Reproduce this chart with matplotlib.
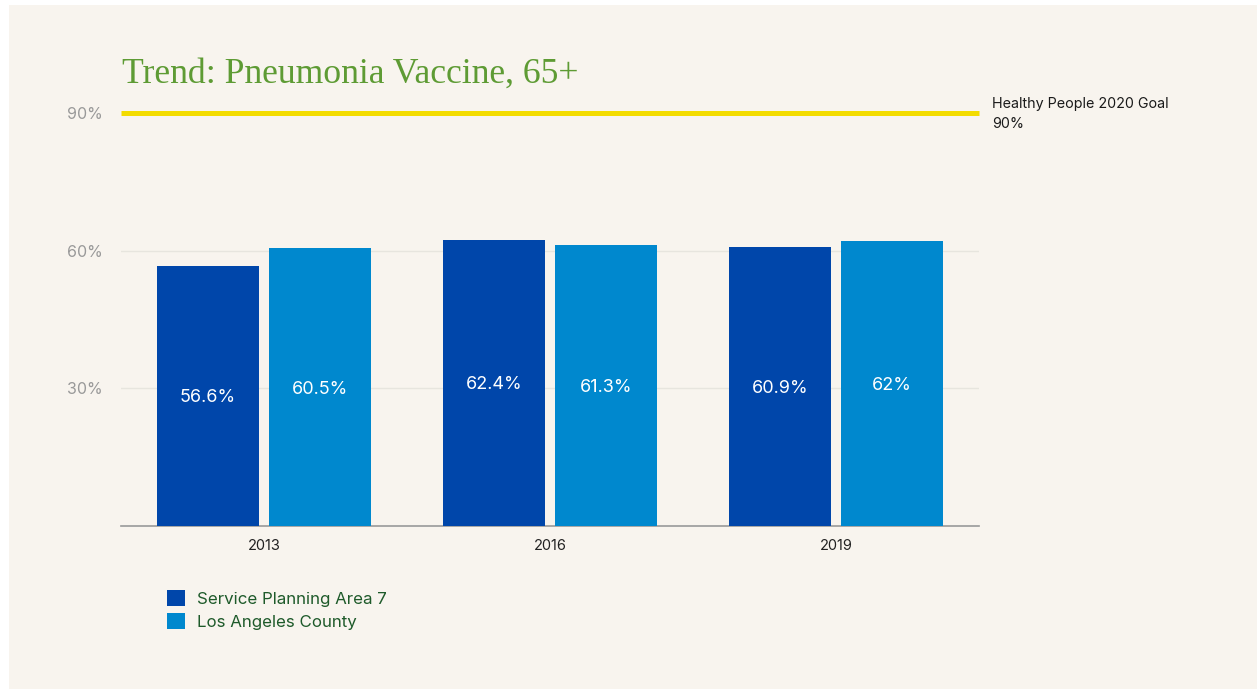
import matplotlib
matplotlib.use("Agg")
import matplotlib.pyplot as plt
import numpy as np
from matplotlib.patches import Rectangle

years = ["2013", "2016", "2019"]
spa7 = [56.6, 62.4, 60.9]
lac = [60.5, 61.3, 62.0]
spa7_labels = ["56.6%", "62.4%", "60.9%"]
lac_labels = ["60.5%", "61.3%", "62%"]
series_names = ["Service Planning Area 7", "Los Angeles County"]
goal_value = 90
goal_label = "Healthy People 2020 Goal\n90%"
yticks = [30, 60, 90]
ytick_labels = ["30%", "60%", "90%"]
title = "Trend: Pneumonia Vaccine, 65+"

BG = "#f8f4ee"
DARK = "#0046aa"
LIGHT = "#0088ce"
SANS = ["Inter", "DejaVu Sans"]

fig = plt.figure(figsize=(12.57, 6.89), dpi=100, facecolor="white")
fig.patches.append(Rectangle((9 / 1257, 0), 1 - 9 / 1257, 1 - 5 / 689,
                             transform=fig.transFigure, facecolor=BG,
                             edgecolor="none", zorder=-10))

ax = fig.add_axes([121 / 1257, 163 / 689, 858 / 1257, 413 / 689])
ax.set_facecolor("none")

x = np.arange(len(years))
w = 0.357
off = 0.196
b1 = ax.bar(x - off, spa7, w, color=DARK, label=series_names[0], zorder=3)
b2 = ax.bar(x + off, lac, w, color=LIGHT, label=series_names[1], zorder=3)

for bars, labs in ((b1, spa7_labels), (b2, lac_labels)):
    for rect, lab in zip(bars, labs):
        ax.text(rect.get_x() + rect.get_width() / 2, rect.get_height() / 2 - 0.4, lab,
                ha="center", va="center", color="white", fontsize=13,
                family=SANS, zorder=4)

ax.set_xlim(-0.5, len(years) - 0.5)
ax.set_ylim(0, 90)
ax.set_xticks(x)
ax.set_xticklabels(years, family=SANS, fontsize=10.5, color="#222222")
ax.set_yticks(yticks)
ax.set_yticklabels(ytick_labels, family=SANS, fontsize=11.5, color="#999999")
ax.tick_params(axis="both", length=0)
ax.tick_params(axis="y", pad=13)
ax.tick_params(axis="x", pad=9)

for v in yticks[:-1]:
    ax.axhline(v, color="#e7e5de", lw=1, zorder=1)
for s in ["top", "right", "left"]:
    ax.spines[s].set_visible(False)
ax.spines["bottom"].set_color("#999999")
ax.spines["bottom"].set_linewidth(1.2)

ax.axhline(goal_value, color="#f3dc00", lw=3.6, zorder=5, clip_on=False,
           solid_capstyle="butt")
ax.annotate(goal_label, xy=(1, goal_value), xycoords=("axes fraction", "data"),
            xytext=(13, -1), textcoords="offset pixels", ha="left", va="center",
            fontsize=10.3, family=SANS, color="#1a1a1a", linespacing=1.55)

fig.text(122 / 1257, (689 - 83) / 689, title, family=["Liberation Serif", "DejaVu Serif"],
         fontsize=25.7, color="#5e9b34", ha="left", va="baseline")

leg = ax.legend(handles=[b1, b2], loc="upper left",
                bbox_to_anchor=(167 / 1257, (689 - 590) / 689),
                bbox_transform=fig.transFigure, frameon=False,
                prop={"family": "Inter", "size": 12.2}, handlelength=1.08,
                handleheight=1.08, handletextpad=0.7, labelspacing=0.37,
                borderpad=0, borderaxespad=0)
for t in leg.get_texts():
    t.set_color("#1e5a2a")

fig.savefig("out.png", dpi=100, facecolor="white")
